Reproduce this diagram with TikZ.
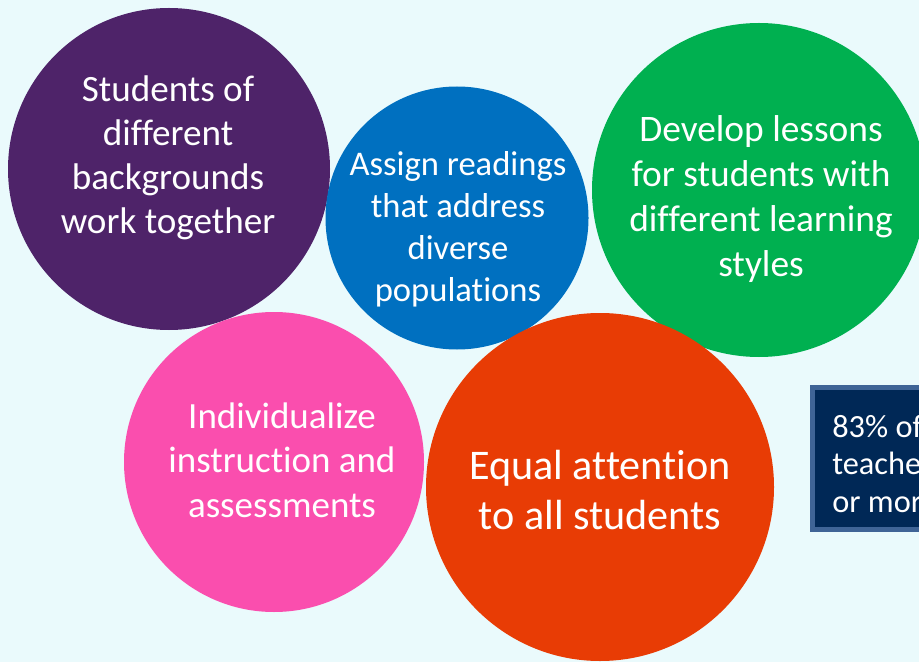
\documentclass[tikz,border=0pt]{standalone}
\usepackage{fontspec}
\setmainfont{Carlito}[Ligatures=NoCommon]

\definecolor{bgcyan}{HTML}{EAFAFC}
\definecolor{bubblepurple}{HTML}{4E2369}
\definecolor{bubbleblue}{HTML}{0070C0}
\definecolor{bubblegreen}{HTML}{00B050}
\definecolor{bubblepink}{HTML}{FA4EAE}
\definecolor{bubbleorange}{HTML}{E83C05}
\definecolor{boxnavy}{HTML}{002856}
\definecolor{boxedge}{HTML}{3F6496}

\begin{document}
\begin{tikzpicture}[x=0.025cm,y=-0.025cm,
  bubbletext/.style={text=white,align=center,inner sep=0pt}]

% Frame and background
\clip (0,0) rectangle (919,662);
\fill[bgcyan] (0,0) rectangle (919,662);

% Bubbles
\coordinate (cpurple) at (169,169);
\coordinate (cblue) at (457,218);
\coordinate (cgreen) at (759,190);
\coordinate (cpink) at (274,462);
\coordinate (corange) at (600,487);

\fill[bubblepurple] (cpurple) circle (161);
\fill[bubbleblue] (cblue) circle (131.5);
\fill[bubblegreen] (cgreen) circle (167);
\fill[bubblepink] (cpink) circle (150);
\fill[bubbleorange] (corange) circle (174);

% Bubble texts
\node[bubbletext,font=\fontsize{26.4}{31.3}\selectfont] (students) at (168,158)
  {Students of\\different\\backgrounds\\work together};
\node[bubbletext,font=\fontsize{24.6}{29.9}\selectfont] (readings) at (458,229)
  {Assign readings\\that address\\diverse\\populations};
\node[bubbletext,font=\fontsize{26.6}{32}\selectfont] (lessons) at (761,199)
  {Develop lessons\\for students with\\different learning\\styles};
\node[bubbletext,font=\fontsize{26.3}{31.7}\selectfont] (individual) at (282,460)
  {Individualize\\instruction and\\assessments};
\node[bubbletext,font=\fontsize{30}{35}\selectfont] (attention) at (600,490)
  {Equal attention\\to all students};

% Side box
\draw[boxedge,fill=boxnavy,line width=3.5pt] (812.5,387.5) rectangle (960,529.5);
\node[text=white,align=left,inner sep=0pt,anchor=west,
  font=\fontsize{23}{26.7}\selectfont] (share) at (832,464)
  {83\% of\\teachers\\or more};

\end{tikzpicture}
\end{document}
